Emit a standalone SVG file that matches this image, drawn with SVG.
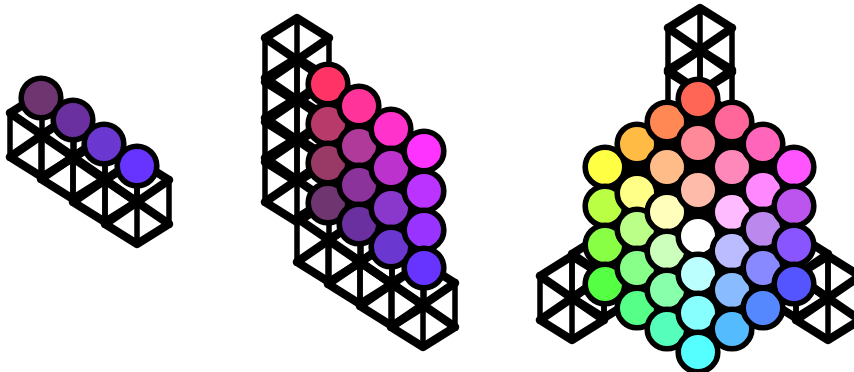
<svg xmlns="http://www.w3.org/2000/svg" width="854" height="372" viewBox="0 0 854 372">
<style>
.v{fill:none;stroke:#000;stroke-width:5.5;stroke-linecap:square}
.d{fill:none;stroke:#000;stroke-width:8.5;stroke-linecap:round;stroke-linejoin:round}
circle{stroke:#000;stroke-width:5.6}
</style>
<defs>
<g id="cube"><path class="v" d="M0-42V42M32-22V22M-32-22V22"/><path class="d" d="M-32-22 0-42 32-22M-32 22 0 42 32 22M-32-22 32 22M-32 22 32-22"/></g>
</defs>
<rect width="854" height="372" fill="#fff"/>
<g id="figure-left">
<use href="#cube" x="42" y="135"/><use href="#cube" x="73" y="157"/><use href="#cube" x="105" y="180"/><use href="#cube" x="137" y="202"/>
<g>
<circle cx="41" cy="98" r="19.8" fill="#6e3570"/>
<circle cx="73" cy="120" r="19.8" fill="#6a30a0"/>
<circle cx="104" cy="144" r="19.8" fill="#6a38d0"/>
<circle cx="137" cy="166" r="19.8" fill="#6633ff"/>
</g>
</g>
<g id="figure-middle">
<use href="#cube" x="297" y="60"/><use href="#cube" x="297" y="100"/><use href="#cube" x="297" y="140"/><use href="#cube" x="297" y="180"/>
<use href="#cube" x="329" y="240"/><use href="#cube" x="360" y="262"/><use href="#cube" x="392" y="284"/><use href="#cube" x="423" y="305"/>
<polygon points="328,84 424,151 424,268 328,203" fill="#000"/>
<g>
<circle cx="328" cy="84" r="19.8" fill="#ff3366"/>
<circle cx="328" cy="124" r="19.8" fill="#b83a6b"/>
<circle cx="328" cy="163" r="19.8" fill="#993a66"/>
<circle cx="328" cy="203" r="19.8" fill="#6e3570"/>
<circle cx="359" cy="106" r="19.8" fill="#ff3399"/>
<circle cx="359" cy="146" r="19.8" fill="#b03a99"/>
<circle cx="359" cy="185" r="19.8" fill="#8b339b"/>
<circle cx="359" cy="224" r="19.8" fill="#6a30a0"/>
<circle cx="391" cy="129" r="19.8" fill="#ff33cc"/>
<circle cx="391" cy="168" r="19.8" fill="#bb33cc"/>
<circle cx="391" cy="208" r="19.8" fill="#8a38cc"/>
<circle cx="391" cy="247" r="19.8" fill="#6a38d0"/>
<circle cx="424" cy="151" r="19.8" fill="#ff33ff"/>
<circle cx="424" cy="191" r="19.8" fill="#bb33ff"/>
<circle cx="424" cy="230" r="19.8" fill="#9933ff"/>
<circle cx="424" cy="268" r="19.8" fill="#6633ff"/>
</g>
</g>
<g id="figure-right">
<use href="#cube" x="700" y="50"/><use href="#cube" x="700" y="92"/>
<use href="#cube" x="572" y="298"/><use href="#cube" x="604" y="276"/>
<use href="#cube" x="828" y="298"/><use href="#cube" x="796" y="276"/>
<polygon points="698,99 794,167 794,284 698,352 605,284 605,167" fill="#000"/>
<g>
<circle cx="605" cy="167" r="19.8" fill="#ffff44"/>
<circle cx="605" cy="206" r="19.8" fill="#bbff44"/>
<circle cx="605" cy="245" r="19.8" fill="#88ff44"/>
<circle cx="605" cy="284" r="19.8" fill="#55ff44"/>
<circle cx="637" cy="144" r="19.8" fill="#ffbb44"/>
<circle cx="637" cy="193" r="19.8" fill="#ffff88"/>
<circle cx="637" cy="229" r="19.8" fill="#bbff88"/>
<circle cx="637" cy="268" r="19.8" fill="#88ff88"/>
<circle cx="637" cy="308" r="19.8" fill="#55ff88"/>
<circle cx="667" cy="122" r="19.8" fill="#ff8855"/>
<circle cx="667" cy="167" r="19.8" fill="#ffbb88"/>
<circle cx="667" cy="212" r="19.8" fill="#ffffbb"/>
<circle cx="667" cy="251" r="19.8" fill="#ccffbb"/>
<circle cx="667" cy="290" r="19.8" fill="#88ffaa"/>
<circle cx="667" cy="329" r="19.8" fill="#55ffbb"/>
<circle cx="698" cy="99" r="19.8" fill="#ff6655"/>
<circle cx="698" cy="143" r="19.8" fill="#ff8899"/>
<circle cx="698" cy="190" r="19.8" fill="#ffbbaa"/>
<circle cx="698" cy="236" r="19.8" fill="#ffffff"/>
<circle cx="698" cy="274" r="19.8" fill="#bbffff"/>
<circle cx="698" cy="313" r="19.8" fill="#88ffff"/>
<circle cx="698" cy="352" r="19.8" fill="#55ffff"/>
<circle cx="732" cy="122" r="19.8" fill="#ff6699"/>
<circle cx="732" cy="167" r="19.8" fill="#ff88bb"/>
<circle cx="732" cy="212" r="19.8" fill="#ffbbff"/>
<circle cx="732" cy="251" r="19.8" fill="#bbbbff"/>
<circle cx="732" cy="290" r="19.8" fill="#88bbff"/>
<circle cx="732" cy="329" r="19.8" fill="#55bbff"/>
<circle cx="763" cy="144" r="19.8" fill="#ff66bb"/>
<circle cx="763" cy="190" r="19.8" fill="#ff88ff"/>
<circle cx="763" cy="229" r="19.8" fill="#bb88ee"/>
<circle cx="763" cy="268" r="19.8" fill="#8888ff"/>
<circle cx="763" cy="308" r="19.8" fill="#5588ff"/>
<circle cx="794" cy="167" r="19.8" fill="#ff55ff"/>
<circle cx="794" cy="206" r="19.8" fill="#bb55ee"/>
<circle cx="794" cy="245" r="19.8" fill="#8855ff"/>
<circle cx="794" cy="284" r="19.8" fill="#5555ff"/>
</g>
</g>
</svg>
